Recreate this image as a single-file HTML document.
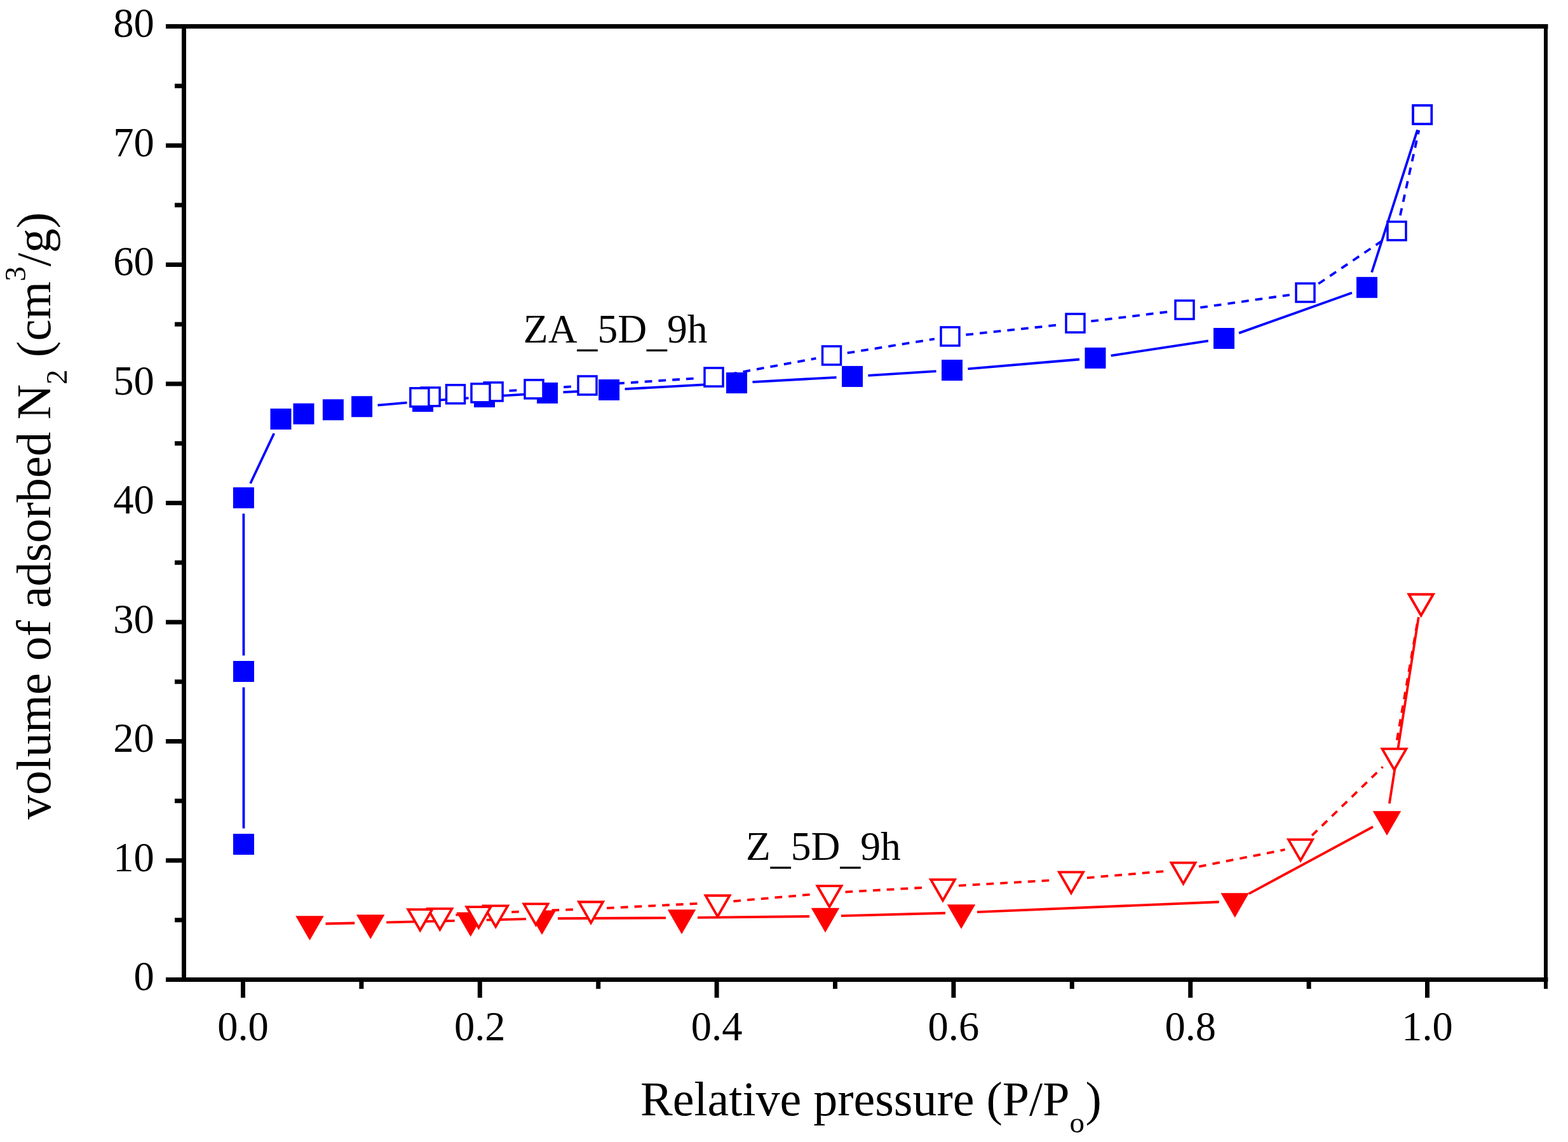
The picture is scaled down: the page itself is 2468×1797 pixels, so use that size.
<!DOCTYPE html>
<html><head><meta charset="utf-8"><title>N2 adsorption isotherm</title><style>html,body{margin:0;padding:0;background:#fff;overflow:hidden}svg{display:block}</style></head><body><svg width="2468" height="1797" viewBox="0 0 2468 1797"><rect width="2468" height="1797" fill="#fff"/><path d="M383.5 1303.5L383.5 1081.5M383.41 808.3L383.49 1031.5M394.09 760.7L431.31 682M594.51 637.64L640.59 633.66M690.44 629.7L737.56 626.3M787.45 622.96L836.55 619.94M886.47 617.14L933.63 614.76M983.56 612.13L1134.54 603.87M1184.46 601.11L1316.54 593.79M1366.45 590.83L1473.55 584.07M1523.41 580.39L1699.09 565.51M1748.71 559.63L1901.79 536.27M1950.05 524.11L2127.95 460.69M2159.14 428.5L2231.06 204.3" stroke="#0000ff" stroke-width="3.8" fill="none" stroke-linecap="butt"/><path d="M512.49 1453.48L558.21 1452.52M608.19 1451.41L715.71 1448.89M765.69 1447.65L828.01 1446.05M878 1445.26L1048 1444.34M1098 1443.92L1274 1441.98M1323.99 1441.05L1488.01 1436.75M1537.98 1435.06L1918.72 1419.24M1965.7 1406.33L2161 1300.97M2186.87 1264.4L2232.83 971.1" stroke="#ff0000" stroke-width="3.8" fill="none" stroke-linecap="butt"/><path d="M2203.87 338.98L2233.33 204.92" stroke="#0000ff" stroke-width="3.8" fill="none" stroke-dasharray="11.7 10.1"/><path d="M2075.23 446.52L2177.77 377.38" stroke="#0000ff" stroke-width="3.8" fill="none" stroke-dasharray="11.7 10.1"/><path d="M1889.25 483.98L2029.75 464.02" stroke="#0000ff" stroke-width="3.8" fill="none" stroke-dasharray="11.7 10.1"/><path d="M1717.32 505.47L1839.68 490.53" stroke="#0000ff" stroke-width="3.8" fill="none" stroke-dasharray="11.7 10.1"/><path d="M1520.36 526.76L1667.64 511.14" stroke="#0000ff" stroke-width="3.8" fill="none" stroke-dasharray="11.7 10.1"/><path d="M1333.68 555.43L1470.82 533.37" stroke="#0000ff" stroke-width="3.8" fill="none" stroke-dasharray="11.7 10.1"/><path d="M1148.09 588.98L1284.41 563.92" stroke="#0000ff" stroke-width="3.8" fill="none" stroke-dasharray="11.7 10.1"/><path d="M949.45 604.87L1098.55 595.13" stroke="#0000ff" stroke-width="3.8" fill="none" stroke-dasharray="11.7 10.1"/><path d="M865.44 610.65L899.56 608.25" stroke="#0000ff" stroke-width="3.8" fill="none" stroke-dasharray="11.7 10.1"/><path d="M801.55 614.84L815.55 613.96" stroke="#0000ff" stroke-width="3.8" fill="none" stroke-dasharray="11.7 10.1"/><path d="M2198.78 1164.67L2232.42 971.03" stroke="#ff0000" stroke-width="3.8" fill="none" stroke-dasharray="11.7 10.1"/><path d="M2064.96 1314.71L2176.54 1206.69" stroke="#ff0000" stroke-width="3.8" fill="none" stroke-dasharray="11.7 10.1"/><path d="M1887.03 1363.66L2022.47 1336.94" stroke="#ff0000" stroke-width="3.8" fill="none" stroke-dasharray="11.7 10.1"/><path d="M1710.91 1381.3L1837.59 1370.6" stroke="#ff0000" stroke-width="3.8" fill="none" stroke-dasharray="11.7 10.1"/><path d="M1508.96 1393.57L1661.04 1384.83" stroke="#ff0000" stroke-width="3.8" fill="none" stroke-dasharray="11.7 10.1"/><path d="M1330.46 1403.6L1459.04 1396.4" stroke="#ff0000" stroke-width="3.8" fill="none" stroke-dasharray="11.7 10.1"/><path d="M1154.41 1418.05L1280.59 1407.15" stroke="#ff0000" stroke-width="3.8" fill="none" stroke-dasharray="11.7 10.1"/><path d="M955.07 1428.95L1104.53 1421.45" stroke="#ff0000" stroke-width="3.8" fill="none" stroke-dasharray="11.7 10.1"/><path d="M868.48 1432.41L905.12 1431.09" stroke="#ff0000" stroke-width="3.8" fill="none" stroke-dasharray="11.7 10.1"/><path d="M805.17 1435.18L818.53 1434.52" stroke="#ff0000" stroke-width="3.8" fill="none" stroke-dasharray="11.7 10.1"/><path d="M717.37 1439.71L728.43 1439.19" stroke="#ff0000" stroke-width="3.8" fill="none" stroke-dasharray="11.7 10.1"/><g fill="#0000ff"><rect x="367" y="1312" width="33" height="33"/><rect x="367" y="1040" width="33" height="33"/><rect x="366.9" y="766.8" width="33" height="33"/><rect x="425.5" y="642.9" width="33" height="33"/><rect x="461.5" y="634.7" width="33" height="33"/><rect x="507.9" y="628.3" width="33" height="33"/><rect x="553.1" y="623.3" width="33" height="33"/><rect x="649" y="615" width="33" height="33"/><rect x="746" y="608" width="33" height="33"/><rect x="845" y="601.9" width="33" height="33"/><rect x="942.1" y="597" width="33" height="33"/><rect x="1143" y="586" width="33" height="33"/><rect x="1325" y="575.9" width="33" height="33"/><rect x="1482" y="566" width="33" height="33"/><rect x="1707.5" y="546.9" width="33" height="33"/><rect x="1910" y="516" width="33" height="33"/><rect x="2135" y="435.8" width="33" height="33"/><rect x="2222.2" y="164" width="33" height="33"/></g><g fill="#ff0000"><polygon points="465.24,1441.15 509.76,1441.15 487.5,1479.7"/><polygon points="560.94,1439.15 605.46,1439.15 583.2,1477.7"/><polygon points="718.44,1435.45 762.96,1435.45 740.7,1474"/><polygon points="830.74,1432.55 875.26,1432.55 853,1471.1"/><polygon points="1050.74,1431.35 1095.26,1431.35 1073,1469.9"/><polygon points="1276.74,1428.85 1321.26,1428.85 1299,1467.4"/><polygon points="1490.74,1423.25 1535.26,1423.25 1513,1461.8"/><polygon points="1921.44,1405.35 1965.96,1405.35 1943.7,1443.9"/><polygon points="2160.74,1276.25 2205.26,1276.25 2183,1314.8"/><polygon points="2214.44,933.55 2258.96,933.55 2236.7,972.1"/></g><g fill="#fff" stroke="#0000ff" stroke-width="3.5"><rect x="2224.2" y="166" width="29" height="29"/><rect x="2184" y="348.9" width="29" height="29"/><rect x="2040" y="446" width="29" height="29"/><rect x="1850" y="473" width="29" height="29"/><rect x="1678" y="494" width="29" height="29"/><rect x="1481" y="514.9" width="29" height="29"/><rect x="1294.5" y="544.9" width="29" height="29"/><rect x="1109" y="579" width="29" height="29"/><rect x="910" y="592" width="29" height="29"/><rect x="826" y="597.9" width="29" height="29"/><rect x="762.1" y="601.9" width="29" height="29"/><rect x="742" y="603.9" width="29" height="29"/><rect x="702.5" y="605.8" width="29" height="29"/><rect x="663.1" y="609.9" width="29" height="29"/><rect x="645.9" y="610.8" width="29" height="29"/></g><g fill="#fff" stroke="#ff0000" stroke-width="3.8" stroke-linejoin="miter"><polygon points="2217.73,935.45 2255.67,935.45 2236.7,968.3"/><polygon points="2175.53,1178.35 2213.47,1178.35 2194.5,1211.2"/><polygon points="2028.03,1321.15 2065.97,1321.15 2047,1354"/><polygon points="1843.53,1357.55 1881.47,1357.55 1862.5,1390.4"/><polygon points="1667.03,1372.45 1704.97,1372.45 1686,1405.3"/><polygon points="1465.03,1384.05 1502.97,1384.05 1484,1416.9"/><polygon points="1286.53,1394.05 1324.47,1394.05 1305.5,1426.9"/><polygon points="1110.53,1409.25 1148.47,1409.25 1129.5,1442.1"/><polygon points="911.13,1419.25 949.07,1419.25 930.1,1452.1"/><polygon points="824.53,1422.35 862.47,1422.35 843.5,1455.2"/><polygon points="761.23,1425.45 799.17,1425.45 780.2,1458.3"/><polygon points="734.43,1427.05 772.37,1427.05 753.4,1459.9"/><polygon points="673.43,1429.95 711.37,1429.95 692.4,1462.8"/><polygon points="642.33,1431.05 680.27,1431.05 661.3,1463.9"/></g><path d="M261 41.5H2436.5M261 1541.5H2436.5M289.5 38V1545M261 1354H289.5M261 1166.5H289.5M261 979H289.5M261 791.5H289.5M261 604H289.5M261 416.5H289.5M261 229H289.5M275 1447.75H289.5M275 1260.25H289.5M275 1072.75H289.5M275 885.25H289.5M275 697.75H289.5M275 510.25H289.5M275 322.75H289.5M275 135.25H289.5M382.5 1541.5V1570M755.3 1541.5V1570M1128.1 1541.5V1570M1500.9 1541.5V1570M1873.7 1541.5V1570M2246.5 1541.5V1570M568.9 1541.5V1556M941.7 1541.5V1556M1314.5 1541.5V1556M1687.3 1541.5V1556M2060.1 1541.5V1556" stroke="#000" stroke-width="7" fill="none" stroke-linecap="butt"/><path d="M2433 41.5V1556" stroke="#000" stroke-width="6" fill="none"/><g font-family="'Liberation Serif','Times New Roman',serif" font-size="64.5" fill="#000"><text x="242.7" y="1558.3" text-anchor="end">0</text><text x="242.7" y="1370.8" text-anchor="end">10</text><text x="242.7" y="1183.3" text-anchor="end">20</text><text x="242.7" y="995.8" text-anchor="end">30</text><text x="242.7" y="808.3" text-anchor="end">40</text><text x="242.7" y="620.8" text-anchor="end">50</text><text x="242.7" y="433.3" text-anchor="end">60</text><text x="242.7" y="245.8" text-anchor="end">70</text><text x="242.7" y="58.3" text-anchor="end">80</text><text x="382.5" y="1636.8" text-anchor="middle">0.0</text><text x="755.3" y="1636.8" text-anchor="middle">0.2</text><text x="1128.1" y="1636.8" text-anchor="middle">0.4</text><text x="1500.9" y="1636.8" text-anchor="middle">0.6</text><text x="1873.7" y="1636.8" text-anchor="middle">0.8</text><text x="2246.5" y="1636.8" text-anchor="middle">1.0</text></g><g font-family="'Liberation Serif','Times New Roman',serif" font-size="63.6" fill="#000"><text x="823.8" y="539">ZA<tspan dy="5.5">_</tspan><tspan dy="-5.5">5D</tspan><tspan dy="5.5">_</tspan><tspan dy="-5.5">9h</tspan></text><text x="1174" y="1353">Z<tspan dy="5.5">_</tspan><tspan dy="-5.5">5D</tspan><tspan dy="5.5">_</tspan><tspan dy="-5.5">9h</tspan></text></g><text font-family="'Liberation Serif','Times New Roman',serif" font-size="76" fill="#000" x="1008" y="1754.5">Relative pressure (P/P<tspan font-size="47" dy="27.5">o</tspan><tspan dy="-27.5" dx="1.5">)</tspan></text><text font-family="'Liberation Serif','Times New Roman',serif" font-size="76.8" fill="#000" transform="translate(78.9 1289.5) rotate(-90)" x="0" y="0">volume of adsorbed N<tspan font-size="47" dy="26.3">2</tspan><tspan dy="-26.3"> (cm</tspan><tspan font-size="47" dy="-38.5">3</tspan><tspan dy="38.5">/g)</tspan></text></svg></body></html>
